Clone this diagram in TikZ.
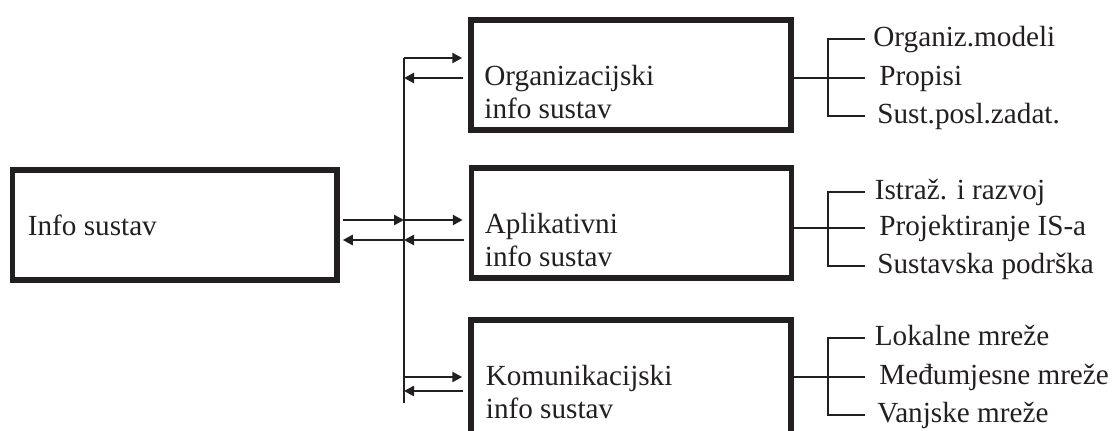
\documentclass[tikz,border=0pt]{standalone}
\usepackage{fontspec}
\setmainfont{Liberation Serif}
\usetikzlibrary{arrows.meta,calc}
\definecolor{inkblack}{HTML}{231F20}
\tikzset{
  sysbox/.style={draw=inkblack,line width=2.75pt,inner sep=0pt,
    minimum width=160pt,minimum height=55pt},
  boxlabel/.style={anchor=base west,align=left,inner sep=0pt,
    font=\fontsize{14.6pt}{16.5pt}\selectfont},
  leaflabel/.style={anchor=west,inner sep=0pt,text height=10pt,text depth=3pt},
  busline/.style={draw=inkblack,line width=1pt},
  flowarrow/.style={-{Triangle[length=5pt,width=5pt]},draw=inkblack,line width=1.3pt},
  branchline/.style={draw=inkblack,line width=1.3pt}
}

\begin{document}
\begin{tikzpicture}[x=0.5pt,y=-0.5pt,font=\fontsize{14.6pt}{14.5pt}\selectfont,text=inkblack]
  \useasboundingbox (0,0) rectangle (1115,430);

  % sustavi
  \node[sysbox,minimum width=162.25pt] (info) at (174.75,225) {};
  \node[sysbox] (org) at (631,74.75) {};
  \node[sysbox] (apl) at (631.5,223) {};
  \node[sysbox,minimum height=60pt] (kom) at (631,380) {};

  \node[boxlabel] (infotext) at (27.5,235) {Info sustav};
  \node[boxlabel] (orgtext) at (484,118) {Organizacijski\\info sustav};
  \node[boxlabel] (apltext) at (484.5,266) {Aplikativni\\info sustav};
  \node[boxlabel] (komtext) at (485.5,418) {Komunikacijski\\info sustav};

  % sabirnica i strelice
  \coordinate (bustop) at (404,58);
  \coordinate (busend) at (404,403);
  \draw[busline] (bustop) -- (busend);

  \coordinate (o2) at (404,78);
  \draw[flowarrow,shorten >=3pt] (bustop) -- (bustop -| org.west);
  \draw[flowarrow,shorten <=2.5pt] (o2 -| org.west) -- (o2);

  \coordinate (a1) at (404,220);
  \coordinate (a2) at (404,240);
  \draw[flowarrow,shorten <=1.5pt] (a1 -| info.east) -- (a1);
  \draw[flowarrow,shorten >=3pt] (a1) -- (a1 -| apl.west);
  \draw[flowarrow,shorten <=2.5pt] (a2 -| apl.west) -- (a2);
  \draw[flowarrow,shorten >=1.5pt] (a2) -- (a2 -| info.east);

  \coordinate (k1) at (404,377);
  \coordinate (k2) at (404,391);
  \draw[flowarrow,shorten >=3pt] (k1) -- (k1 -| kom.west);
  \draw[flowarrow,shorten <=2.5pt] (k2 -| kom.west) -- (k2);

  % podsustavi
  \coordinate (orgfork) at (828,78);
  \node[leaflabel] (orgA) at (873,39) {Organiz.modeli};
  \node[leaflabel] (orgB) at (879,78) {Propisi};
  \node[leaflabel] (orgC) at (877,116) {Sust.posl.zadat.};
  \draw[branchline] (orgfork -| org.east) -- (orgfork) -- ([xshift=-7pt]orgB.west);
  \draw[branchline] ([xshift=-4pt]orgA.west) -| (orgfork) |- ([xshift=-6pt]orgC.west);

  \coordinate (aplfork) at (828,228);
  \node[leaflabel] (aplA) at (874.5,192) {Istraž. i razvoj};
  \node[leaflabel] (aplB) at (879,228) {Projektiranje IS-a};
  \node[leaflabel] (aplC) at (877,266) {Sustavska podrška};
  \draw[branchline] (aplfork -| apl.east) -- (aplfork) -- ([xshift=-7pt]aplB.west);
  \draw[branchline] ([xshift=-4.75pt]aplA.west) -| (aplfork) |- ([xshift=-6pt]aplC.west);

  \coordinate (komfork) at (828,377);
  \node[leaflabel] (komA) at (874.5,338) {Lokalne mreže};
  \node[leaflabel] (komB) at (879,377) {Međumjesne mreže};
  \node[leaflabel] (komC) at (877,415) {Vanjske mreže};
  \draw[branchline] (komfork -| kom.east) -- (komfork) -- ([xshift=-7pt]komB.west);
  \draw[branchline] ([xshift=-4.75pt]komA.west) -| (komfork) |- ([xshift=-6pt]komC.west);
\end{tikzpicture}
\end{document}
